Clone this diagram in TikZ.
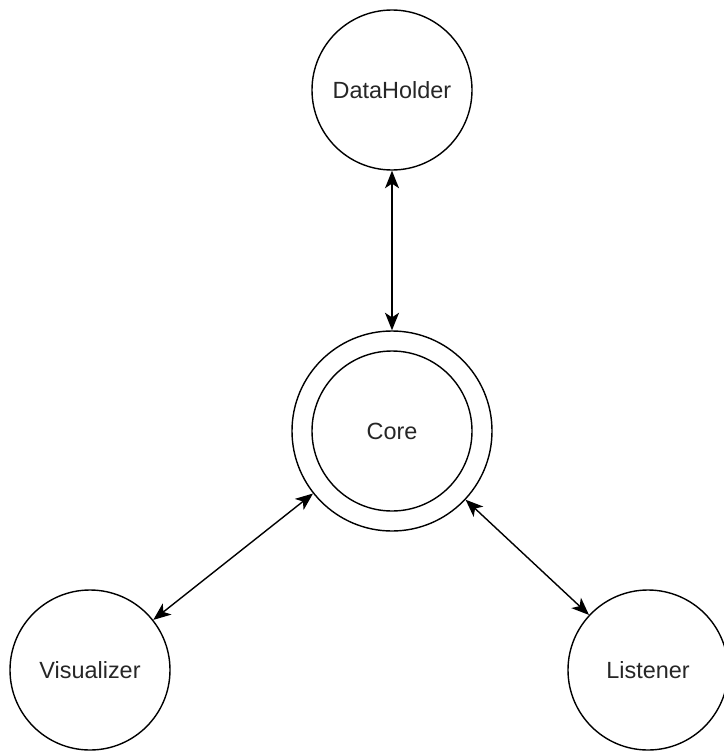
\documentclass[tikz,border=0pt]{standalone}
\usepackage{fontspec}
\setmainfont{Liberation Sans}
\usetikzlibrary{arrows.meta}

\tikzset{comp/.style={draw, circle, line width=1.2pt, minimum size=48mm, inner sep=0pt, text=black!85}}

\begin{document}
\begin{tikzpicture}[x=0.3mm, y=-0.3mm, >={Stealth[length=15pt, width=12pt, inset=4pt]}, font=\fontsize{20}{24}\selectfont]
    \useasboundingbox (0,0) rectangle (723,751);
    \node[comp] (data) at (392,90) {DataHolder};
    \node[comp, minimum size=60mm] (core) at (392,431) {};
    \node[comp] (corein) at (392,431) {Core};
    \node[comp] (vis) at (90,670) {Visualizer};
    \node[comp] (lis) at (648,670) {Listener};
    \draw[<->, line width=1.2pt] (data) -- (core);
    \draw[<->, line width=1.2pt] (core) -- (vis);
    \draw[<->, line width=1.2pt] (core) -- (lis);
\end{tikzpicture}
\end{document}
